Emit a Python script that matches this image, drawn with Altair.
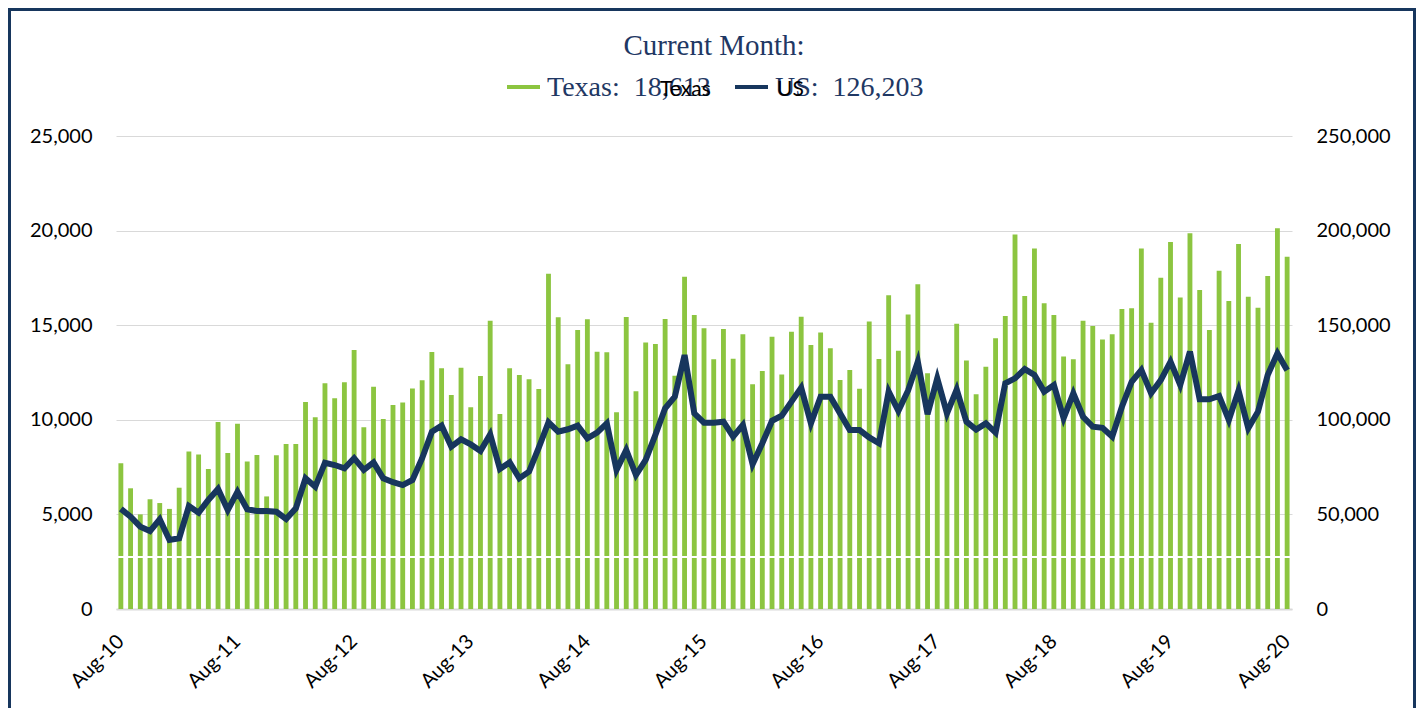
import altair as alt
import pandas as pd

MONTH_NAMES = ["Jan", "Feb", "Mar", "Apr", "May", "Jun",
               "Jul", "Aug", "Sep", "Oct", "Nov", "Dec"]
months = [f"{MONTH_NAMES[(7 + i) % 12]}-{10 + (7 + i) // 12:02d}" for i in range(121)]
tick_labels = ["Aug-10", "Aug-11", "Aug-12", "Aug-13", "Aug-14", "Aug-15",
               "Aug-16", "Aug-17", "Aug-18", "Aug-19", "Aug-20"]

texas = [7700, 6380, 5000, 5800, 5600, 5290, 6410, 8330, 8160, 7400,
         9880, 8250, 9790, 7790, 8140, 5950, 8120, 8720, 8720, 10940,
         10130, 11930, 11140, 11980, 13690, 9600, 11750, 10040, 10780, 10920,
         11660, 12090, 13580, 12720, 11310, 12750, 10660, 12320, 15240, 10310,
         12720, 12370, 12140, 11630, 17720, 15420, 12930, 14750, 15310, 13600,
         13570, 10400, 15430, 11510, 14080, 14010, 15330, 12330, 17560, 15540,
         14840, 13200, 14800, 13230, 14520, 11880, 12580, 14390, 12400, 14660,
         15450, 13950, 14620, 13780, 12100, 12630, 11640, 15190, 13210, 16580,
         13650, 15560, 17160, 12460, 12280, 10400, 15080, 13140, 11350, 12810,
         14310, 15490, 19800, 16540, 19060, 16160, 15540, 13340, 13200, 15240,
         14960, 14250, 14520, 15860, 15890, 19060, 15130, 17510, 19400, 16470,
         19860, 16860, 14750, 17880, 16280, 19290, 16510, 15920, 17600, 20120,
         18613]

us = [52900, 48800, 43500, 41200, 47400, 36500, 37400, 54400, 50900, 57600,
      63400, 52300, 62000, 52700, 51800, 51800, 51400, 47600, 53200, 69100,
      64600, 77300, 76100, 74400, 79700, 73500, 77500, 69100, 67000, 65500,
      68200, 79700, 93700, 96900, 85800, 89700, 87000, 83500, 92300, 74000,
      77500, 69100, 72600, 85300, 98700, 93700, 95000, 96900, 90200, 93200,
      98100, 73500, 84000, 70800, 78800, 92000, 106100, 112200, 134200, 103400,
      98500, 98500, 99000, 91100, 97300, 76500, 87600, 99500, 102200, 109600,
      117000, 98100, 112200, 112200, 103400, 94600, 94600, 90700, 87600, 114900,
      104700, 115500, 130700, 103000, 121900, 103400, 116000, 99000, 94800, 98100,
      93200, 119300, 121900, 126800, 123700, 114900, 118400, 100800, 114000, 101600,
      96400, 95800, 91100, 106900, 120100, 126300, 114000, 121000, 130700, 118400,
      136000, 110800, 110800, 112600, 99900, 115400, 95500, 104300, 123700, 135100,
      126203]

left_ticks = [0, 5000, 10000, 15000, 20000, 25000]
right_ticks = [0, 50000, 100000, 150000, 200000, 250000]

GREEN = "#8cc540"
NAVY = "#17365d"
TEXT_NAVY = "#1f3864"
SERIF = "Liberation Serif"
SANS = "Lato"
NB = "\u00a0"

df = pd.DataFrame({"month": months, "Texas": texas, "US": us})

x_enc = alt.X(
    "month:N", sort=None,
    scale=alt.Scale(paddingInner=0.5, paddingOuter=0.25),
    axis=alt.Axis(values=tick_labels, labelAngle=-45, labelAlign="right",
                  labelBaseline="middle", ticks=False, domain=True,
                  domainColor="#d9d9d9", domainWidth=2, grid=False,
                  labelPadding=29, title=None, labelFont=SANS,
                  labelFontSize=20, labelColor="#000000"),
)

bars = alt.Chart(df).mark_bar(color=GREEN).encode(
    x=x_enc,
    y=alt.Y("Texas:Q", scale=alt.Scale(domain=[0, 25000], nice=False),
            axis=alt.Axis(values=left_ticks, format=",.0f", orient="left",
                          grid=True, gridColor="#d9d9d9", gridWidth=1,
                          domain=False, ticks=False, labelPadding=24,
                          title=None, labelFont=SANS, labelFontSize=20,
                          labelColor="#000000")),
)

gap = alt.Chart(df).mark_rule(color="white", strokeWidth=1.5).encode(
    y=alt.Y(datum=2750, scale=alt.Scale(domain=[0, 25000], nice=False), axis=None),
)

line = alt.Chart(df).mark_line(color=NAVY, strokeWidth=6).encode(
    x=x_enc,
    y=alt.Y("US:Q", scale=alt.Scale(domain=[0, 250000], nice=False),
            axis=alt.Axis(values=right_ticks, format=",.0f", orient="right",
                          grid=False, domain=False, ticks=False,
                          labelPadding=24, title=None, labelFont=SANS,
                          labelFontSize=20, labelColor="#000000")),
)

one = pd.DataFrame({"k": [0]})


def label(text, x, y, font, size, color, align="left"):
    return alt.Chart(one).mark_text(
        text=text, font=font, fontSize=size, color=color, align=align,
        baseline="alphabetic").encode(x=alt.value(x), y=alt.value(y))


def swatch(x1, x2, y, color):
    return alt.Chart(one).mark_rule(color=color, strokeWidth=4).encode(
        x=alt.value(x1), x2=alt.value(x2), y=alt.value(y))


title = label("Current Month:", 598, -81, SERIF, 29, TEXT_NAVY, "center")
leg_tx = label(f"Texas:{NB}{NB}{texas[-1]:,}", 431, -40, SERIF, 28, TEXT_NAVY)
leg_us = label(f"US:{NB}{NB}{us[-1]:,}", 659, -40, SERIF, 28, TEXT_NAVY)
over_tx = label("Texas", 544, -40, SANS, 21, "#000000")
over_us = label("US", 661, -40, SANS, 21, "#000000")
sw_tx = swatch(391, 424, -49, GREEN)
sw_us = swatch(619, 652, -49, NAVY)

frame = alt.Chart(one).mark_rect(fillOpacity=0, stroke=NAVY, strokeWidth=3).encode(
    x=alt.value(-106.5), x2=alt.value(1298.5), y=alt.value(-126.5), y2=alt.value(620))

chart = alt.layer(
    bars, gap, line, title, sw_tx, leg_tx, over_tx, sw_us, leg_us, over_us, frame
).resolve_scale(y="independent").properties(
    width=1176, height=473,
    autosize=alt.AutoSizeParams(type="none"),
    padding={"left": 108, "top": 128, "right": 126, "bottom": 99},
    background="white",
).configure_view(stroke=None)

chart.save("out.html", embed_options={"renderer": "svg", "actions": False})
